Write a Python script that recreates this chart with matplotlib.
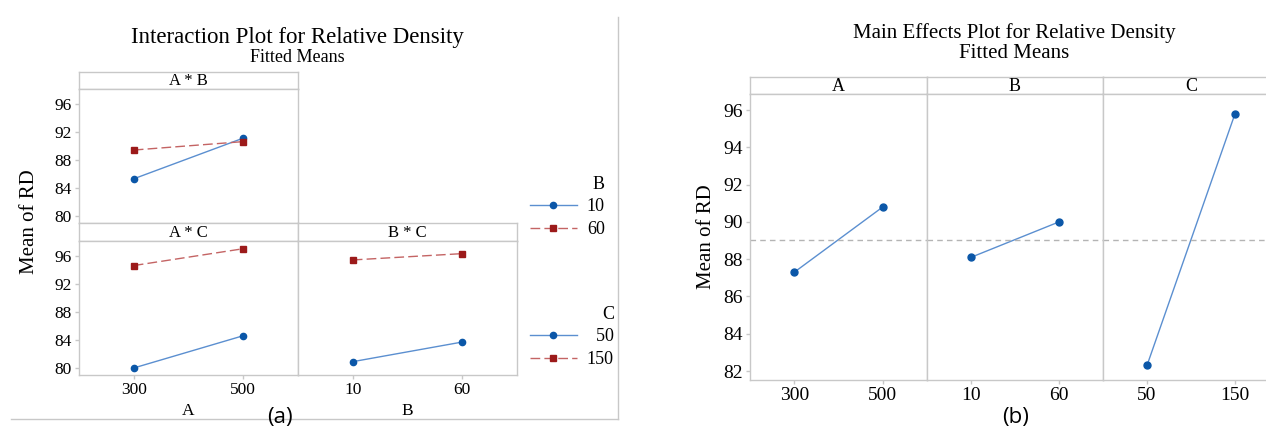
import numpy as np
import matplotlib.pyplot as plt
from matplotlib.lines import Line2D

W, H = 1266, 433

# factor levels
a_levels = ['300', '500']
b_levels = ['10', '60']
c_levels = ['50', '150']

# interaction plot, fitted means
ab_b10 = [85.3, 91.1]
ab_b60 = [89.4, 90.6]
ac_c50 = [80.0, 84.6]
ac_c150 = [94.6, 97.0]
bc_c50 = [80.9, 83.7]
bc_c150 = [95.4, 96.3]

# main effects plot, fitted means
main_a = [87.3, 90.8]
main_b = [88.1, 90.0]
main_c = [82.3, 95.8]

BLUE_LINE = '#5b8fd0'
BLUE_MK = '#0b57a8'
RED_LINE = '#c46464'
RED_MK = '#9c1a1a'
GRID = '#c8c8c8'

plt.rcParams['font.family'] = ['Liberation Serif', 'DejaVu Serif']


def box(x0, y0, x1, y1):
    # pixel box -> figure fraction
    return [x0 / W, 1 - y1 / H, (x1 - x0) / W, (y1 - y0) / H]


def style(ax, size):
    for s in ax.spines.values():
        s.set_color(GRID)
        s.set_linewidth(1)
    ax.tick_params(color=GRID, length=3, width=1, labelsize=size, pad=2)


def header(fig, b, txt, size):
    hx = fig.add_axes(box(*b))
    style(hx, size)
    hx.set_xticks([])
    hx.set_yticks([])
    hx.text(0.5, 0.45, txt, ha='center', va='center', fontsize=size,
            transform=hx.transAxes)
    return hx


def draw_pair(ax, low, high):
    x = np.arange(len(low))
    l1, = ax.plot(x, low, color=BLUE_LINE, lw=1, marker='o', ms=4.5,
                  mfc=BLUE_MK, mec=BLUE_MK)
    l2, = ax.plot(x, high, color=RED_LINE, lw=1, ls=(0, (7, 3)), marker='s',
                  ms=5, mfc=RED_MK, mec=RED_MK)
    return l1, l2


fig = plt.figure(figsize=(W / 100, H / 100), dpi=100)

# ---------------- (a) interaction plot ----------------
fig.text(297 / W, 1 - 38 / H, 'Interaction Plot for Relative Density',
         ha='center', va='center', fontsize=16.5)
fig.text(297 / W, 1 - 58 / H, 'Fitted Means', ha='center', va='center',
         fontsize=13)

ylim_a = (79.0, 98.1)
yt_a = [80, 84, 88, 92, 96]

header(fig, (79, 72, 298, 89), 'A * B', 12)
ax_ab = fig.add_axes(box(79, 89, 298, 223))
header(fig, (79, 223, 298, 241), 'A * C', 12)
ax_ac = fig.add_axes(box(79, 241, 298, 375))
header(fig, (298, 223, 517, 241), 'B * C', 12)
ax_bc = fig.add_axes(box(298, 241, 517, 375))

hb = draw_pair(ax_ab, ab_b10, ab_b60)
hc = draw_pair(ax_ac, ac_c50, ac_c150)
draw_pair(ax_bc, bc_c50, bc_c150)

for ax in (ax_ab, ax_ac, ax_bc):
    style(ax, 12.5)
    ax.set_ylim(*ylim_a)
    ax.set_xlim(-0.5, 1.5)
    ax.set_yticks(yt_a)
ax_ab.set_xticks([])
ax_ac.set_xticks([0, 1], a_levels)
ax_bc.set_xticks([0, 1], b_levels)
ax_bc.tick_params(axis='y', left=False, labelleft=False)
fig.text(188 / W, 1 - 411 / H, 'A', ha='center', va='center', fontsize=12.5)
fig.text(407 / W, 1 - 411 / H, 'B', ha='center', va='center', fontsize=12.5)

fig.text(30 / W, 1 - 222 / H, 'Mean of RD', rotation=90, ha='center',
         va='center', fontsize=15)

leg_kw = dict(frameon=False, fontsize=13, title_fontsize=13,
              handlelength=2.6, handletextpad=0.55, labelspacing=0.3,
              borderpad=0, borderaxespad=0, alignment='right',
              loc='upper left')
lg1 = fig.legend(hb, b_levels, title='B',
                 bbox_to_anchor=(530 / W, 1 - 176 / H), **leg_kw)
lg2 = fig.legend(hc, ['  ' + c_levels[0], c_levels[1]], title='C',
                 bbox_to_anchor=(530 / W, 1 - 306 / H), **leg_kw)

# frame around (a)
fig.add_artist(Line2D([618 / W, 618 / W], [1 - 17 / H, 1 - 419 / H],
                      color=GRID, lw=1, transform=fig.transFigure))
fig.add_artist(Line2D([11 / W, 618 / W], [1 - 419 / H, 1 - 419 / H],
                      color=GRID, lw=1, transform=fig.transFigure))
fig.text(280 / W, 1 - 418 / H, '(a)', ha='center', va='center',
         fontsize=16, family=['Open Sans', 'DejaVu Sans'])

# ---------------- (b) main effects plot ----------------
fig.text(1014 / W, 1 - 33 / H, 'Main Effects Plot for Relative Density',
         ha='center', va='center', fontsize=15)
fig.text(1014 / W, 1 - 54 / H, 'Fitted Means', ha='center', va='center',
         fontsize=15)

mean_all = np.mean(main_a + main_b + main_c)
ylim_b = (81.52, 96.86)
panels = [('A', main_a, a_levels, 750, 927),
          ('B', main_b, b_levels, 927, 1103),
          ('C', main_c, c_levels, 1103, 1279)]
for i, (name, vals, levels, x0, x1) in enumerate(panels):
    header(fig, (x0, 77, x1, 94), name, 13)
    ax = fig.add_axes(box(x0, 94, x1, 380))
    style(ax, 14)
    ax.plot(np.arange(2), vals, color=BLUE_LINE, lw=1, marker='o', ms=5,
            mfc=BLUE_MK, mec=BLUE_MK)
    ax.axhline(mean_all, color='#b4b4b4', lw=1, ls=(0, (4, 3)))
    ax.set_xlim(-0.5, 1.5)
    ax.set_ylim(*ylim_b)
    ax.set_xticks([0, 1], levels)
    ax.set_yticks(np.arange(82, 97, 2))
    if i == 0:
        ax.set_ylabel('Mean of RD', fontsize=15, labelpad=5)
    else:
        ax.tick_params(axis='y', left=False, labelleft=False)

fig.text(1016 / W, 1 - 418 / H, '(b)', ha='center', va='center',
         fontsize=16, family=['Open Sans', 'DejaVu Sans'])

fig.savefig('out.png', dpi=100)
